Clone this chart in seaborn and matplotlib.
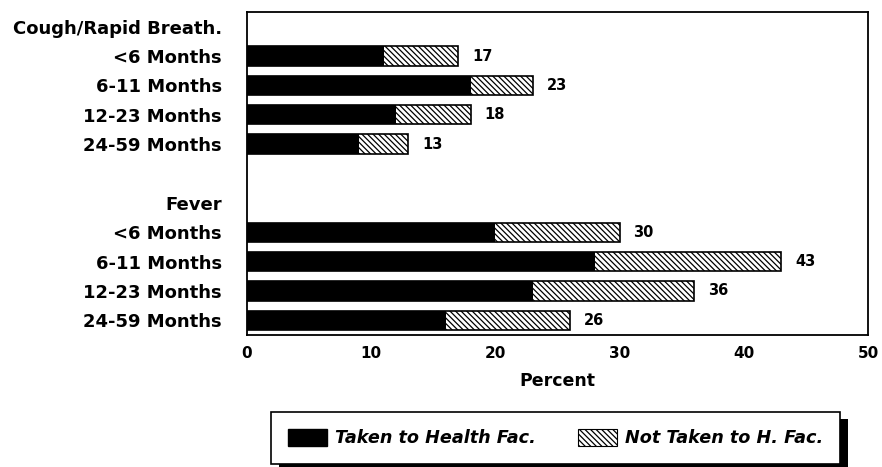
import matplotlib
matplotlib.use("Agg")
import matplotlib.pyplot as plt
import seaborn as sns
import pandas as pd
from matplotlib.patches import Patch, Rectangle

# ---- data ----
groups = ["Cough/Rapid Breath.", "Fever"]
ages = ["<6 Months", "6-11 Months", "12-23 Months", "24-59 Months"]
taken_cough = [11, 18, 12, 9]
total_cough = [17, 23, 18, 13]
taken_fever = [20, 28, 23, 16]
total_fever = [30, 43, 36, 26]
legend_labels = ["Taken to Health Fac.", "Not Taken to H. Fac."]
xticks = [0, 10, 20, 30, 40, 50]

# ---- table ----
rows = []
for g, tk, tt in [("c", taken_cough, total_cough), ("f", taken_fever, total_fever)]:
    for a, t1, t2 in zip(ages, tk, tt):
        rows.append({"key": f"{g}|{a}", "taken": t1, "total": t2})
df = pd.DataFrame(rows)

order = ["hdr_c"] + [f"c|{a}" for a in ages] + ["blank", "hdr_f"] + [f"f|{a}" for a in ages]
tick_text = [groups[0]] + ages + ["", groups[1]] + ages

sns.set_style("white")
plt.rcParams["font.family"] = ["DejaVu Sans"]
plt.rcParams["hatch.linewidth"] = 0.9
for k in ["text.color", "axes.labelcolor", "xtick.color", "ytick.color"]:
    plt.rcParams[k] = "black"

HATCH = "\\\\\\\\\\\\"

fig = plt.figure(figsize=(8.82, 4.67), dpi=100)
ax = fig.add_axes([247 / 882, 1 - 335 / 467, (868 - 247) / 882, (335 - 12) / 467])

sns.barplot(data=df, y="key", x="total", order=order, orient="h", color="white",
            saturation=1, edgecolor="black", linewidth=1.2, hatch=HATCH,
            width=0.66, errorbar=None, ax=ax)
sns.barplot(data=df, y="key", x="taken", order=order, orient="h", color="black",
            saturation=1, linewidth=0, width=0.66, errorbar=None, ax=ax)

ax.bar_label(ax.containers[0], labels=[str(v) for v in df["total"]], padding=10,
             fontsize=10.5, fontweight="bold", color="black")

ax.set_xlim(0, 50)
ax.set_xticks(xticks)
ax.set_xticklabels([str(t) for t in xticks], fontsize=11, fontweight="bold")
ax.set_yticks(range(len(order)))
ax.set_yticklabels(tick_text, fontsize=13, fontweight="bold")
ax.tick_params(axis="x", length=0, pad=8)
ax.tick_params(axis="y", length=0, pad=18)
ax.set_ylabel("")
ax.set_xlabel("Percent", fontsize=12.5, fontweight="bold", labelpad=8)
for s in ax.spines.values():
    s.set_visible(True)
    s.set_color("black")
    s.set_linewidth(1.3)

handles = [Patch(facecolor="black", edgecolor="black"),
           Patch(facecolor="white", edgecolor="black", hatch=HATCH, linewidth=0.8)]
leg = fig.legend(handles, legend_labels, loc="lower left", ncol=2,
                 bbox_to_anchor=(271 / 882, 3 / 467), borderaxespad=0,
                 frameon=True, fancybox=False, framealpha=1, edgecolor="black",
                 handlelength=2.2, handleheight=1.1, borderpad=0.95,
                 handletextpad=0.5, columnspacing=2.35,
                 prop={"weight": "bold", "style": "italic", "size": 12.7})
leg.get_frame().set_linewidth(1.2)
leg.set_zorder(10)

# drop shadow (down-right) behind the legend box
fig.canvas.draw()
bb = leg.get_frame().get_window_extent(fig.canvas.get_renderer())
shadow = Rectangle((bb.x0 + 8, bb.y0 - 7), bb.width, bb.height, transform=None,
                   facecolor="black", edgecolor="none", zorder=9)
fig.add_artist(shadow)

fig.savefig("out.png", dpi=100)
